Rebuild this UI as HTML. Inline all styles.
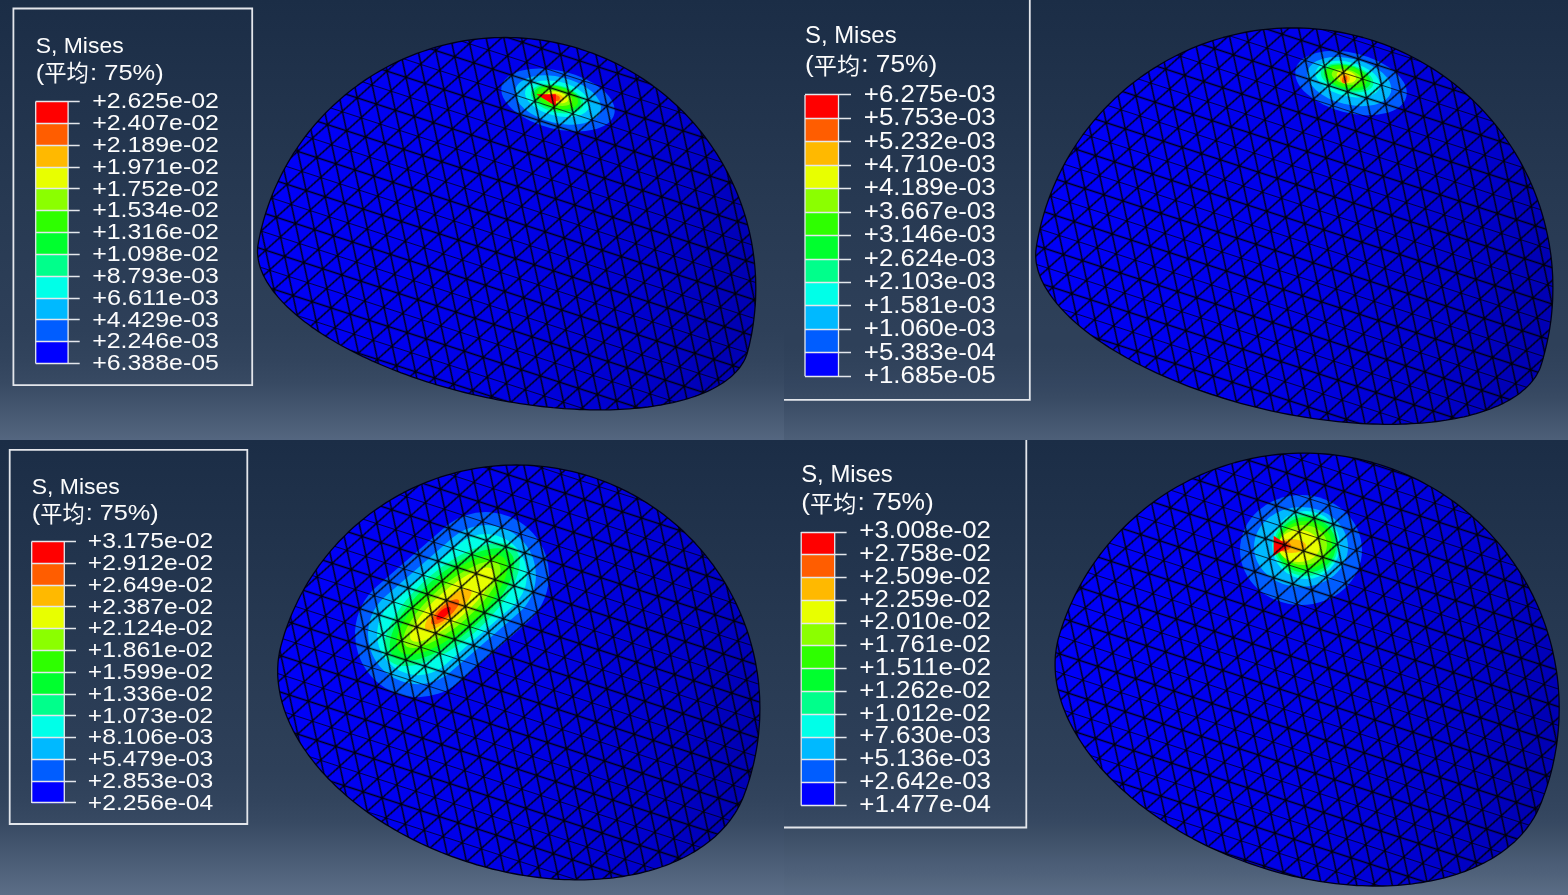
<!DOCTYPE html><html lang="en"><head><meta charset="utf-8"><title>S, Mises</title><style>html,body{margin:0;padding:0;background:#1b2a44;overflow:hidden}svg{display:block;font-family:"Liberation Sans","Noto Sans CJK SC",sans-serif}</style></head><body>
<svg width="1568" height="895" viewBox="0 0 1568 895">
<defs>
<linearGradient id="g0" x1="0" y1="0" x2="0" y2="1"><stop offset="0.0000" stop-color="#1b2d46"/><stop offset="0.2273" stop-color="#21334c"/><stop offset="0.4545" stop-color="#273952"/><stop offset="0.7500" stop-color="#2e4059"/><stop offset="0.7841" stop-color="#30425b"/><stop offset="0.8182" stop-color="#32445d"/><stop offset="0.8455" stop-color="#354760"/><stop offset="0.8727" stop-color="#384a63"/><stop offset="0.8955" stop-color="#3d4f68"/><stop offset="0.9136" stop-color="#41536c"/><stop offset="0.9318" stop-color="#455770"/><stop offset="0.9500" stop-color="#495b74"/><stop offset="0.9682" stop-color="#4d5f78"/><stop offset="0.9886" stop-color="#52647d"/><stop offset="1" stop-color="#546680"/></linearGradient>
<linearGradient id="g1" x1="0" y1="0" x2="0" y2="1"><stop offset="0.0000" stop-color="#1b2d46"/><stop offset="0.2273" stop-color="#21334c"/><stop offset="0.4545" stop-color="#273952"/><stop offset="0.7500" stop-color="#2e4059"/><stop offset="0.7841" stop-color="#2e4059"/><stop offset="0.8182" stop-color="#30425b"/><stop offset="0.8455" stop-color="#32445d"/><stop offset="0.8727" stop-color="#344660"/><stop offset="0.8955" stop-color="#374962"/><stop offset="0.9136" stop-color="#3a4c65"/><stop offset="0.9318" stop-color="#3e5069"/><stop offset="0.9500" stop-color="#42546d"/><stop offset="0.9682" stop-color="#465871"/><stop offset="0.9886" stop-color="#4b5d76"/><stop offset="1" stop-color="#4d5f78"/></linearGradient>
<linearGradient id="g2" x1="0" y1="0" x2="0" y2="1"><stop offset="0.0000" stop-color="#1b2d46"/><stop offset="0.2198" stop-color="#21334c"/><stop offset="0.4396" stop-color="#273952"/><stop offset="0.7253" stop-color="#2e4059"/><stop offset="0.7582" stop-color="#30425b"/><stop offset="0.7912" stop-color="#32445d"/><stop offset="0.8176" stop-color="#354760"/><stop offset="0.8440" stop-color="#384a63"/><stop offset="0.8659" stop-color="#3d4f68"/><stop offset="0.8835" stop-color="#41536c"/><stop offset="0.9011" stop-color="#455770"/><stop offset="0.9187" stop-color="#495b74"/><stop offset="0.9363" stop-color="#4d5f78"/><stop offset="0.9560" stop-color="#52647d"/><stop offset="0.9780" stop-color="#576982"/><stop offset="1.0000" stop-color="#5c6e87"/><stop offset="1" stop-color="#5c6e87"/></linearGradient>
<linearGradient id="g3" x1="0" y1="0" x2="0" y2="1"><stop offset="0.0000" stop-color="#1b2d46"/><stop offset="0.2198" stop-color="#21334c"/><stop offset="0.4396" stop-color="#273952"/><stop offset="0.7253" stop-color="#2e4059"/><stop offset="0.7582" stop-color="#30425b"/><stop offset="0.7912" stop-color="#32445d"/><stop offset="0.8176" stop-color="#34465f"/><stop offset="0.8440" stop-color="#374962"/><stop offset="0.8659" stop-color="#3c4e66"/><stop offset="0.8835" stop-color="#40526a"/><stop offset="0.9011" stop-color="#44566e"/><stop offset="0.9187" stop-color="#485a73"/><stop offset="0.9363" stop-color="#4c5e77"/><stop offset="0.9560" stop-color="#50627b"/><stop offset="0.9780" stop-color="#566880"/><stop offset="1.0000" stop-color="#5a6c86"/><stop offset="1" stop-color="#5a6c86"/></linearGradient>
<linearGradient id="dome" x1="0" y1="0.3" x2="1" y2="0.5"><stop offset="0" stop-color="#0000fa"/><stop offset="0.55" stop-color="#0000e8"/><stop offset="0.85" stop-color="#0000cc"/><stop offset="1" stop-color="#0000b4"/></linearGradient>
<pattern id="mesh" width="20" height="34.64" patternUnits="userSpaceOnUse" patternTransform="rotate(18)"><path d="M0 0H20M0 17.32H20M0 0L10 17.32L0 34.64M20 0L10 17.32L20 34.64" fill="none" stroke="#000" stroke-width="1.4" stroke-opacity="0.95" stroke-linecap="round"/></pattern>
<filter id="bl" x="-2%" y="-2%" width="104%" height="104%"><feGaussianBlur stdDeviation="0.5"/></filter>
<path id="o0" d="M258.6 241.3L259.7 236.2L260.8 231L262.1 225.9L263.4 220.9L264.9 215.8L266.5 210.8L268.2 205.8L269.9 200.9L271.8 196L273.8 191.1L275.9 186.3L278.1 181.5L280.4 176.8L282.7 172.1L285.2 167.5L287.8 162.9L290.5 158.4L293.2 153.9L296.1 149.5L299.1 145.2L302.1 140.9L305.2 136.7L308.4 132.5L311.8 128.4L315.1 124.4L318.6 120.5L322.2 116.6L325.8 112.8L329.5 109.1L333.3 105.5L337.2 101.9L341.1 98.4L345.1 95.1L349.2 91.7L353.4 88.5L357.6 85.4L361.9 82.4L366.2 79.4L370.6 76.5L375.1 73.8L379.6 71.1L384.2 68.5L388.8 66L393.5 63.7L398.2 61.4L403 59.2L407.8 57.1L412.7 55.1L417.6 53.2L422.5 51.5L427.5 49.8L432.5 48.2L437.6 46.7L442.6 45.4L447.7 44.1L452.9 43L458 41.9L463.2 41L468.4 40.2L473.6 39.5L478.8 38.9L484 38.4L489.3 38L494.5 37.7L499.7 37.6L505 37.5L510.3 37.6L515.5 37.7L520.7 38L526 38.4L531.2 38.9L536.4 39.5L541.6 40.2L546.8 41L552 41.9L557.1 43L562.3 44.1L567.4 45.4L572.4 46.7L577.5 48.2L582.5 49.8L587.5 51.5L592.4 53.2L597.3 55.1L602.2 57.1L607 59.2L611.8 61.4L616.5 63.7L621.2 66L625.8 68.5L630.4 71.1L634.9 73.8L639.4 76.5L643.8 79.4L648.1 82.4L652.4 85.4L656.6 88.5L660.8 91.7L664.9 95.1L668.9 98.4L672.8 101.9L676.7 105.5L680.5 109.1L684.2 112.8L687.8 116.6L691.4 120.5L694.9 124.4L698.2 128.4L701.6 132.5L704.8 136.7L707.9 140.9L710.9 145.2L713.9 149.5L716.8 153.9L719.5 158.4L722.2 162.9L724.8 167.5L727.3 172.1L729.6 176.8L731.9 181.5L734.1 186.3L736.2 191.1L738.2 196L740.1 200.9L741.8 205.8L743.5 210.8L745.1 215.8L746.6 220.9L747.9 225.9L749.2 231L750.3 236.2L751.4 241.3L752.3 246.5L753.1 251.7L753.8 256.9L754.4 262.1L754.9 267.3L755.3 272.6L755.6 277.8L755.7 283L755.8 288.3L755.7 293.6L755.6 298.8L755.3 304L754.9 309.3L754.4 314.5L753.8 319.7L753.1 324.9L752.3 330.1L751.4 335.3L750.3 340.4L749.2 345.6L747.9 350.7L747.4 352.6L746.7 354.7L745.9 356.7L745.1 358.7L744.1 360.7L743 362.7L741.7 364.7L740.4 366.6L739 368.5L737.4 370.3L735.8 372.1L734 373.9L732.1 375.7L730.1 377.4L728.1 379.1L725.9 380.8L723.6 382.4L721.1 384L718.6 385.5L716 387L713.3 388.5L710.5 389.9L707.5 391.3L704.5 392.6L701.4 393.9L698.2 395.2L694.8 396.4L691.4 397.5L687.9 398.6L684.3 399.7L680.6 400.7L676.8 401.7L672.9 402.6L668.9 403.4L664.9 404.2L660.8 405L656.5 405.7L652.2 406.4L647.9 407L643.4 407.5L638.9 408L634.3 408.4L629.6 408.8L624.9 409.1L620.1 409.4L615.2 409.6L610.3 409.8L605.3 409.8L600.3 409.9L595.2 409.9L590.1 409.8L584.9 409.7L579.7 409.5L574.4 409.2L569.1 408.9L563.8 408.6L558.4 408.1L553 407.7L547.5 407.1L542.1 406.5L536.6 405.9L531.1 405.2L525.6 404.4L520.1 403.6L514.5 402.7L509 401.8L503.4 400.8L497.9 399.8L492.3 398.7L486.8 397.6L481.3 396.4L475.7 395.2L470.2 393.9L464.7 392.5L459.3 391.1L453.8 389.7L448.4 388.2L443 386.7L437.6 385.1L432.3 383.5L427 381.8L421.8 380.1L416.6 378.4L411.4 376.6L406.3 374.7L401.2 372.9L396.2 370.9L391.3 369L386.4 367L381.6 365L376.8 362.9L372.1 360.9L367.5 358.7L362.9 356.6L358.5 354.4L354.1 352.2L349.7 350L345.5 347.7L341.3 345.5L337.3 343.2L333.3 340.8L329.4 338.5L325.6 336.1L321.8 333.8L318.2 331.4L314.7 329L311.2 326.6L307.9 324.1L304.6 321.7L301.5 319.2L298.5 316.8L295.5 314.3L292.7 311.8L290 309.3L287.4 306.9L284.8 304.4L282.4 301.9L280.1 299.4L277.9 296.9L275.9 294.4L273.9 292L272 289.5L270.3 287L268.7 284.6L267.1 282.1L265.7 279.7L264.4 277.3L263.2 274.9L262.2 272.5L261.2 270.1L260.3 267.7L259.6 265.3L259 263L258.5 260.7L258.1 258.4L257.8 256.1L257.6 253.9L257.5 251.6L257.6 249.4L257.7 247.2L258 245.1Z"/>
<path id="o1" d="M1036.7 244.5L1037.7 239.1L1038.8 233.8L1040 228.5L1041.3 223.2L1042.7 217.9L1044.2 212.7L1045.8 207.5L1047.6 202.3L1049.4 197.2L1051.4 192.1L1053.4 187.1L1055.6 182.1L1057.8 177.1L1060.2 172.2L1062.7 167.4L1065.2 162.6L1067.9 157.9L1070.7 153.2L1073.6 148.5L1076.5 144L1079.6 139.5L1082.7 135L1086 130.7L1089.3 126.4L1092.7 122.1L1096.3 118L1099.9 113.9L1103.5 109.9L1107.3 106L1111.2 102.1L1115.1 98.3L1119.1 94.7L1123.2 91.1L1127.3 87.5L1131.6 84.1L1135.9 80.8L1140.2 77.5L1144.7 74.4L1149.2 71.3L1153.7 68.4L1158.4 65.5L1163 62.7L1167.8 60L1172.6 57.5L1177.4 55L1182.3 52.6L1187.3 50.4L1192.3 48.2L1197.3 46.2L1202.4 44.2L1207.5 42.4L1212.7 40.6L1217.9 39L1223.1 37.5L1228.4 36.1L1233.7 34.8L1239 33.6L1244.3 32.5L1249.7 31.5L1255 30.7L1260.4 29.9L1265.8 29.3L1271.3 28.8L1276.7 28.4L1282.1 28.1L1287.6 28L1293 27.9L1298.4 28L1303.9 28.1L1309.3 28.4L1314.7 28.8L1320.2 29.3L1325.6 29.9L1331 30.7L1336.3 31.5L1341.7 32.5L1347 33.6L1352.3 34.8L1357.6 36.1L1362.9 37.5L1368.1 39L1373.3 40.6L1378.5 42.4L1383.6 44.2L1388.7 46.2L1393.7 48.2L1398.7 50.4L1403.7 52.6L1408.6 55L1413.4 57.5L1418.2 60L1422.9 62.7L1427.6 65.5L1432.3 68.4L1436.8 71.3L1441.3 74.4L1445.8 77.5L1450.1 80.8L1454.4 84.1L1458.7 87.5L1462.8 91.1L1466.9 94.7L1470.9 98.3L1474.8 102.1L1478.7 106L1482.5 109.9L1486.1 113.9L1489.7 118L1493.3 122.1L1496.7 126.4L1500 130.7L1503.3 135L1506.4 139.5L1509.5 144L1512.4 148.5L1515.3 153.2L1518.1 157.8L1520.8 162.6L1523.3 167.4L1525.8 172.2L1528.2 177.1L1530.4 182.1L1532.6 187.1L1534.6 192.1L1536.6 197.2L1538.4 202.3L1540.2 207.5L1541.8 212.7L1543.3 217.9L1544.7 223.2L1546 228.5L1547.2 233.8L1548.3 239.1L1549.3 244.5L1550.1 249.8L1550.9 255.2L1551.5 260.6L1552 266.1L1552.4 271.5L1552.7 276.9L1552.8 282.4L1552.9 287.8L1552.8 293.2L1552.7 298.7L1552.4 304.1L1552 309.5L1551.5 315L1550.9 320.4L1550.1 325.8L1549.3 331.1L1548.3 336.5L1547.2 341.8L1546 347.1L1544.7 352.4L1543.3 357.7L1541.8 362.9L1540.7 366.3L1539.9 368.5L1538.9 370.7L1537.8 372.8L1536.6 375L1535.3 377.1L1533.8 379.1L1532.3 381.2L1530.6 383.2L1528.8 385.1L1526.9 387.1L1524.8 389L1522.6 390.8L1520.4 392.7L1518 394.5L1515.5 396.2L1512.8 397.9L1510.1 399.6L1507.2 401.2L1504.2 402.8L1501.1 404.3L1497.9 405.8L1494.5 407.2L1491.1 408.6L1487.5 409.9L1483.9 411.2L1480.1 412.4L1476.2 413.6L1472.2 414.7L1468.1 415.8L1463.9 416.8L1459.6 417.7L1455.2 418.6L1450.6 419.4L1446 420.2L1441.3 420.9L1436.6 421.5L1431.7 422.1L1426.7 422.6L1421.7 423.1L1416.5 423.4L1411.3 423.7L1406 424L1400.7 424.2L1395.2 424.3L1389.7 424.3L1384.2 424.3L1378.5 424.2L1372.9 424L1367.1 423.8L1361.3 423.5L1355.5 423.1L1349.6 422.7L1343.7 422.2L1337.8 421.6L1331.8 420.9L1325.8 420.2L1319.7 419.4L1313.7 418.6L1307.6 417.7L1301.5 416.7L1295.4 415.6L1289.3 414.5L1283.2 413.3L1277.1 412.1L1271 410.8L1264.9 409.4L1258.8 407.9L1252.8 406.4L1246.7 404.9L1240.7 403.3L1234.7 401.6L1228.8 399.9L1222.9 398.1L1217 396.2L1211.2 394.3L1205.4 392.4L1199.7 390.4L1194 388.4L1188.4 386.3L1182.9 384.1L1177.4 381.9L1172 379.7L1166.7 377.4L1161.4 375.1L1156.3 372.8L1151.2 370.4L1146.2 368L1141.2 365.5L1136.4 363.1L1131.7 360.5L1127 358L1122.5 355.4L1118 352.8L1113.7 350.2L1109.4 347.6L1105.3 344.9L1101.3 342.3L1097.4 339.6L1093.6 336.9L1089.9 334.2L1086.3 331.4L1082.8 328.7L1079.5 325.9L1076.3 323.2L1073.2 320.4L1070.2 317.7L1067.3 314.9L1064.6 312.1L1062 309.4L1059.5 306.6L1057.1 303.9L1054.9 301.1L1052.8 298.4L1050.8 295.7L1048.9 292.9L1047.2 290.2L1045.5 287.5L1044 284.9L1042.7 282.2L1041.4 279.6L1040.3 276.9L1039.3 274.3L1038.4 271.7L1037.7 269.2L1037.1 266.6L1036.5 264.1L1036.1 261.6L1035.9 259.2L1035.7 256.7L1035.7 254.3L1035.8 251.9L1036 249.6Z"/>
<path id="o2" d="M281.7 643.1L283.1 638.2L284.6 633.3L286.2 628.5L288 623.7L289.8 618.9L291.7 614.2L293.8 609.5L295.9 604.9L298.1 600.3L300.4 595.7L302.8 591.2L305.3 586.8L307.9 582.4L310.6 578.1L313.4 573.8L316.3 569.6L319.2 565.4L322.3 561.3L325.4 557.3L328.6 553.3L331.9 549.4L335.3 545.6L338.7 541.8L342.3 538.2L345.9 534.6L349.5 531L353.3 527.6L357.1 524.2L361 520.9L365 517.7L369 514.6L373.1 511.5L377.3 508.6L381.5 505.7L385.8 502.9L390.1 500.2L394.5 497.6L398.9 495.1L403.4 492.7L408 490.4L412.6 488.2L417.2 486.1L421.9 484L426.6 482.1L431.4 480.3L436.2 478.5L441 476.9L445.9 475.4L450.8 474L455.7 472.7L460.7 471.4L465.7 470.3L470.7 469.3L475.7 468.4L480.7 467.6L485.8 466.9L490.8 466.3L495.9 465.9L501 465.5L506.1 465.2L511.2 465.1L516.3 465L521.4 465.1L526.5 465.2L531.6 465.5L536.7 465.9L541.8 466.3L546.8 466.9L551.9 467.6L556.9 468.4L561.9 469.3L566.9 470.3L571.9 471.4L576.9 472.7L581.8 474L586.7 475.4L591.6 476.9L596.4 478.5L601.2 480.3L606 482.1L610.7 484L615.4 486.1L620 488.2L624.6 490.4L629.2 492.7L633.7 495.1L638.1 497.6L642.5 500.2L646.8 502.9L651.1 505.7L655.3 508.6L659.5 511.5L663.6 514.6L667.6 517.7L671.6 520.9L675.5 524.2L679.3 527.6L683.1 531L686.7 534.6L690.3 538.2L693.9 541.8L697.3 545.6L700.7 549.4L704 553.3L707.2 557.3L710.3 561.3L713.4 565.4L716.3 569.6L719.2 573.8L722 578.1L724.7 582.4L727.3 586.8L729.8 591.2L732.2 595.7L734.5 600.3L736.7 604.9L738.8 609.5L740.9 614.2L742.8 618.9L744.6 623.7L746.4 628.5L748 633.3L749.5 638.2L750.9 643.1L752.2 648L753.5 653L754.6 658L755.6 663L756.5 668L757.3 673L758 678.1L758.6 683.1L759 688.2L759.4 693.3L759.7 698.4L759.8 703.5L759.9 708.6L759.8 713.7L759.7 718.8L759.4 723.9L759 729L758.6 734.1L758 739.1L757.3 744.2L756.5 749.2L755.6 754.2L754.6 759.2L753.5 764.2L752.2 769.2L750.9 774.1L749.5 779L748 783.9L746.4 788.7L744.6 793.5L743.7 796L742.5 799L741.1 801.9L739.7 804.9L738.2 807.8L736.6 810.6L734.9 813.4L733 816.2L731.1 818.9L729.1 821.6L727 824.2L724.7 826.8L722.4 829.3L720 831.8L717.5 834.3L714.9 836.7L712.2 839L709.4 841.3L706.5 843.5L703.5 845.7L700.5 847.8L697.3 849.9L694.1 851.9L690.8 853.8L687.3 855.7L683.9 857.5L680.3 859.2L676.6 860.9L672.9 862.5L669.1 864.1L665.2 865.6L661.2 867L657.2 868.3L653.1 869.6L648.9 870.8L644.7 871.9L640.4 873L636 874L631.6 874.9L627.1 875.7L622.6 876.5L618 877.1L613.3 877.8L608.6 878.3L603.9 878.7L599.1 879.1L594.3 879.4L589.4 879.6L584.5 879.8L579.5 879.8L574.5 879.8L569.5 879.7L564.5 879.6L559.4 879.3L554.3 879L549.2 878.6L544.1 878.1L538.9 877.5L533.8 876.9L528.6 876.2L523.4 875.4L518.2 874.5L513 873.5L507.8 872.5L502.6 871.4L497.5 870.2L492.3 869L487.1 867.6L482 866.2L476.8 864.8L471.7 863.2L466.6 861.6L461.5 859.9L456.5 858.1L451.4 856.3L446.4 854.4L441.5 852.5L436.5 850.4L431.7 848.3L426.8 846.2L422 844L417.2 841.7L412.5 839.3L407.9 836.9L403.3 834.5L398.7 832L394.2 829.4L389.8 826.8L385.4 824.1L381.1 821.4L376.8 818.6L372.6 815.8L368.5 812.9L364.5 810L360.5 807L356.6 804L352.8 801L349.1 797.9L345.4 794.8L341.9 791.6L338.4 788.4L335 785.2L331.7 781.9L328.4 778.7L325.3 775.3L322.2 772L319.3 768.6L316.4 765.3L313.7 761.9L311 758.4L308.4 755L306 751.5L303.6 748.1L301.3 744.6L299.1 741.1L297.1 737.6L295.1 734.1L293.2 730.6L291.5 727L289.8 723.5L288.3 720L286.8 716.5L285.5 713L284.2 709.5L283.1 705.9L282.1 702.5L281.2 699L280.4 695.5L279.7 692L279.1 688.6L278.6 685.1L278.2 681.7L277.9 678.3L277.7 674.9L277.7 671.6L277.7 668.2L277.9 664.9L278.1 661.6L278.5 658.4L279 655.2L279.5 652L280.2 648.8L281 645.7Z"/>
<path id="o3" d="M1059.5 634.6L1061.1 629.5L1062.8 624.4L1064.6 619.4L1066.5 614.4L1068.5 609.5L1070.7 604.6L1072.9 599.7L1075.2 594.9L1077.7 590.1L1080.2 585.4L1082.8 580.8L1085.5 576.1L1088.3 571.6L1091.3 567.1L1094.3 562.7L1097.4 558.3L1100.5 554L1103.8 549.8L1107.2 545.7L1110.6 541.6L1114.2 537.6L1117.8 533.6L1121.5 529.8L1125.3 526L1129.1 522.3L1133.1 518.7L1137.1 515.1L1141.2 511.7L1145.3 508.3L1149.5 505L1153.8 501.9L1158.2 498.8L1162.6 495.8L1167.1 492.8L1171.6 490L1176.2 487.3L1180.9 484.7L1185.6 482.2L1190.4 479.7L1195.2 477.4L1200.1 475.2L1205 473L1209.9 471L1214.9 469.1L1219.9 467.3L1225 465.6L1230.1 464L1235.2 462.5L1240.4 461.1L1245.6 459.8L1250.8 458.7L1256.1 457.6L1261.3 456.7L1266.6 455.8L1271.9 455.1L1277.2 454.5L1282.5 454L1287.9 453.6L1293.2 453.3L1298.6 453.2L1303.9 453.1L1309.2 453.2L1314.6 453.3L1319.9 453.6L1325.3 454L1330.6 454.5L1335.9 455.1L1341.2 455.8L1346.5 456.7L1351.7 457.6L1357 458.7L1362.2 459.8L1367.4 461.1L1372.6 462.5L1377.7 464L1382.8 465.6L1387.9 467.3L1392.9 469.1L1397.9 471L1402.8 473L1407.7 475.2L1412.6 477.4L1417.4 479.7L1422.2 482.2L1426.9 484.7L1431.5 487.3L1436.2 490L1440.7 492.8L1445.2 495.8L1449.6 498.8L1454 501.9L1458.3 505L1462.5 508.3L1466.6 511.7L1470.7 515.1L1474.7 518.7L1478.7 522.3L1482.5 526L1486.3 529.8L1490 533.6L1493.6 537.6L1497.2 541.6L1500.6 545.7L1504 549.8L1507.3 554L1510.4 558.3L1513.5 562.7L1516.5 567.1L1519.5 571.6L1522.3 576.1L1525 580.7L1527.6 585.4L1530.1 590.1L1532.6 594.9L1534.9 599.7L1537.1 604.6L1539.3 609.5L1541.3 614.4L1543.2 619.4L1545 624.4L1546.7 629.5L1548.3 634.6L1549.8 639.7L1551.2 644.9L1552.5 650.1L1553.6 655.3L1554.7 660.6L1555.6 665.8L1556.5 671.1L1557.2 676.4L1557.8 681.7L1558.3 687L1558.7 692.4L1559 697.7L1559.1 703.1L1559.2 708.4L1559.1 713.7L1559 719.1L1558.7 724.4L1558.3 729.8L1557.8 735.1L1557.2 740.4L1556.5 745.7L1555.6 751L1554.7 756.2L1553.6 761.5L1552.5 766.7L1551.2 771.9L1549.8 777.1L1548.3 782.2L1546.7 787.3L1545 792.4L1543.2 797.4L1541.3 802.4L1540 805.4L1538.7 808.5L1537.3 811.4L1535.8 814.4L1534.2 817.3L1532.4 820.2L1530.6 823L1528.7 825.7L1526.6 828.5L1524.5 831.1L1522.2 833.8L1519.9 836.4L1517.4 838.9L1514.9 841.4L1512.2 843.8L1509.4 846.1L1506.6 848.4L1503.6 850.7L1500.6 852.9L1497.5 855L1494.2 857.1L1490.9 859.1L1487.5 861L1484 862.9L1480.4 864.7L1476.7 866.4L1473 868.1L1469.1 869.7L1465.2 871.3L1461.2 872.7L1457.1 874.1L1452.9 875.4L1448.7 876.7L1444.4 877.8L1440 878.9L1435.6 879.9L1431.1 880.9L1426.5 881.7L1421.8 882.5L1417.1 883.2L1412.4 883.9L1407.6 884.4L1402.7 884.9L1397.8 885.3L1392.8 885.6L1387.8 885.8L1382.7 886L1377.6 886L1372.5 886L1367.3 885.9L1362.1 885.7L1356.8 885.5L1351.5 885.1L1346.2 884.7L1340.9 884.2L1335.6 883.6L1330.2 882.9L1324.8 882.2L1319.4 881.3L1314 880.4L1308.6 879.4L1303.2 878.4L1297.8 877.2L1292.3 876L1286.9 874.7L1281.5 873.3L1276.1 871.8L1270.7 870.3L1265.3 868.7L1260 867L1254.6 865.2L1249.3 863.4L1244 861.5L1238.8 859.5L1233.5 857.5L1228.3 855.4L1223.2 853.2L1218 850.9L1212.9 848.6L1207.9 846.3L1202.9 843.8L1198 841.3L1193.1 838.8L1188.2 836.1L1183.4 833.5L1178.7 830.7L1174.1 827.9L1169.5 825.1L1164.9 822.2L1160.4 819.3L1156 816.3L1151.7 813.2L1147.5 810.2L1143.3 807L1139.2 803.9L1135.2 800.6L1131.2 797.4L1127.4 794.1L1123.6 790.8L1119.9 787.4L1116.3 784L1112.8 780.6L1109.4 777.2L1106.1 773.7L1102.9 770.2L1099.7 766.7L1096.7 763.1L1093.8 759.6L1091 756L1088.2 752.4L1085.6 748.8L1083.1 745.2L1080.7 741.5L1078.4 737.9L1076.2 734.2L1074.1 730.6L1072.1 726.9L1070.2 723.3L1068.4 719.6L1066.7 716L1065.2 712.3L1063.7 708.6L1062.4 705L1061.2 701.4L1060.1 697.7L1059.1 694.1L1058.2 690.5L1057.4 686.9L1056.7 683.4L1056.2 679.8L1055.7 676.3L1055.4 672.8L1055.2 669.3L1055.1 665.9L1055.1 662.4L1055.2 659L1055.4 655.6L1055.8 652.3L1056.2 649L1056.8 645.7L1057.4 642.5L1058.2 639.2L1059.1 636.1Z"/>
</defs>
<rect x="0" y="0" width="784" height="440" fill="url(#g0)"/>
<rect x="784" y="0" width="784" height="440" fill="url(#g1)"/>
<rect x="0" y="440" width="784" height="455" fill="url(#g2)"/>
<rect x="784" y="440" width="784" height="455" fill="url(#g3)"/>
<clipPath id="c0"><use href="#o0"/></clipPath>
<use href="#o0" fill="url(#dome)" stroke="#00001a" stroke-width="1.3" stroke-linejoin="round"/>
<g clip-path="url(#c0)">
<g transform="translate(558 100) rotate(14)">
<ellipse cx="0" cy="0" rx="58" ry="29" fill="#005DFF"/>
<ellipse cx="0" cy="0" rx="44" ry="23" fill="#00B9FF"/>
<ellipse cx="-1" cy="-1" rx="33" ry="17" fill="#00FFE8"/>
<ellipse cx="-1" cy="-1" rx="27" ry="13.5" fill="#00FF8B"/>
<ellipse cx="-1" cy="-1.5" rx="24" ry="12" fill="#00FF2E"/>
<ellipse cx="-1" cy="-2" rx="21" ry="10.5" fill="#2EFF00"/>
<ellipse cx="-1" cy="-2" rx="15" ry="7.5" fill="#8BFF00"/>
<ellipse cx="-1" cy="-2.5" rx="11" ry="5.5" fill="#E8FF00"/>
<ellipse cx="-2" cy="-2" rx="7" ry="4" fill="#FFB900"/>
<ellipse cx="-3" cy="-1.5" rx="4.5" ry="3" fill="#FF5D00"/>
</g>
<path d="M536.3 94.2L555.9 94.2L555.9 106.3Z" fill="#f00"/>
<rect x="250" y="30" width="515" height="390" fill="url(#mesh)" filter="url(#bl)"/>
</g>
<clipPath id="c1"><use href="#o1"/></clipPath>
<use href="#o1" fill="url(#dome)" stroke="#00001a" stroke-width="1.3" stroke-linejoin="round"/>
<g clip-path="url(#c1)">
<g transform="translate(1351 83) rotate(14)">
<ellipse cx="0" cy="0" rx="57" ry="30" fill="#005DFF"/>
<ellipse cx="-2" cy="-1" rx="43" ry="23" fill="#00B9FF"/>
<ellipse cx="-4" cy="-3" rx="33" ry="17" fill="#00FFE8"/>
<ellipse cx="-5" cy="-4" rx="27" ry="13.5" fill="#00FF8B"/>
<ellipse cx="-5" cy="-4.5" rx="24" ry="12" fill="#00FF2E"/>
<ellipse cx="-6" cy="-5" rx="21" ry="10.5" fill="#2EFF00"/>
<ellipse cx="-6" cy="-5" rx="15" ry="7.5" fill="#8BFF00"/>
<ellipse cx="-6" cy="-5" rx="10" ry="6" fill="#E8FF00"/>
<ellipse cx="-7" cy="-3" rx="5" ry="5" fill="#FFB900"/>
<ellipse cx="-7" cy="-2" rx="2.5" ry="4" fill="#FF5D00"/>
</g>
<rect x="1028" y="20" width="535" height="412" fill="url(#mesh)" filter="url(#bl)"/>
</g>
<clipPath id="c2"><use href="#o2"/></clipPath>
<use href="#o2" fill="url(#dome)" stroke="#00001a" stroke-width="1.3" stroke-linejoin="round"/>
<g clip-path="url(#c2)">
<g transform="translate(452 604.6) rotate(-41)">
<rect x="-108" y="-63" width="216" height="126" rx="63" fill="#005DFF"/>
<rect x="-95" y="-50" width="190" height="100" rx="50" fill="#00B9FF"/>
<rect x="-86" y="-41" width="172" height="82" rx="41" fill="#00FFE8"/>
<ellipse cx="0" cy="0" rx="84" ry="36" fill="#00FF8B"/>
<ellipse cx="0" cy="0" rx="78" ry="31" fill="#00FF2E"/>
<ellipse cx="0" cy="0" rx="70" ry="26" fill="#2EFF00"/>
<ellipse cx="0" cy="0" rx="62" ry="20" fill="#8BFF00"/>
<ellipse cx="0" cy="0" rx="54" ry="15" fill="#E8FF00"/>
<ellipse cx="-6" cy="1" rx="30" ry="9" fill="#FFB900"/>
<ellipse cx="-10" cy="1" rx="18" ry="6" fill="#FF5D00"/>
<ellipse cx="-12" cy="1" rx="9" ry="3.5" fill="#FF0000"/>
</g>
<rect x="270" y="458" width="498" height="430" fill="url(#mesh)" filter="url(#bl)"/>
</g>
<clipPath id="c3"><use href="#o3"/></clipPath>
<use href="#o3" fill="url(#dome)" stroke="#00001a" stroke-width="1.3" stroke-linejoin="round"/>
<g clip-path="url(#c3)">
<g transform="translate(1301 550) rotate(0)">
<ellipse cx="0" cy="0" rx="61" ry="55" fill="#005DFF"/>
<ellipse cx="0" cy="-3" rx="47" ry="40" fill="#00B9FF"/>
<ellipse cx="5" cy="-5" rx="34" ry="34" fill="#00FFE8"/>
<ellipse cx="5" cy="-5" rx="32" ry="31" fill="#00FF8B"/>
<ellipse cx="5" cy="-5" rx="30" ry="28" fill="#00FF2E"/>
<ellipse cx="4" cy="-5" rx="27" ry="24" fill="#2EFF00"/>
<ellipse cx="2" cy="-5" rx="24" ry="20" fill="#8BFF00"/>
<ellipse cx="-2" cy="-4" rx="21" ry="16" fill="#E8FF00"/>
<ellipse cx="-10" cy="-4" rx="15" ry="7" fill="#FFB900"/>
<ellipse cx="-18" cy="-4" rx="8" ry="5" fill="#FF5D00"/>
</g>
<path d="M1273.6 535.8L1273.6 556.1L1288.9 546Z" fill="#f00"/>
<rect x="1048" y="446" width="518" height="446" fill="url(#mesh)" filter="url(#bl)"/>
</g>
<g fill="#fff" font-size="22.4" opacity="0.99">
<text x="35.7" y="53.2" textLength="88" lengthAdjust="spacingAndGlyphs">S, Mises</text>
<text x="35.7" y="79.7" textLength="8.5" lengthAdjust="spacingAndGlyphs">(</text>
<text x="44.2" y="81.4" font-size="22.35" font-family="'Liberation Sans','Noto Sans CJK SC',sans-serif" textLength="44.7" lengthAdjust="spacingAndGlyphs">平均</text>
<text x="90.1" y="79.7" textLength="73.7" lengthAdjust="spacingAndGlyphs">: 75%)</text>
<text x="92.2" y="108.3" textLength="126.7" lengthAdjust="spacingAndGlyphs">+2.625e-02</text>
<text x="92.2" y="130.1" textLength="126.7" lengthAdjust="spacingAndGlyphs">+2.407e-02</text>
<text x="92.2" y="152" textLength="126.7" lengthAdjust="spacingAndGlyphs">+2.189e-02</text>
<text x="92.2" y="173.8" textLength="126.7" lengthAdjust="spacingAndGlyphs">+1.971e-02</text>
<text x="92.2" y="195.6" textLength="126.7" lengthAdjust="spacingAndGlyphs">+1.752e-02</text>
<text x="92.2" y="217.4" textLength="126.7" lengthAdjust="spacingAndGlyphs">+1.534e-02</text>
<text x="92.2" y="239.3" textLength="126.7" lengthAdjust="spacingAndGlyphs">+1.316e-02</text>
<text x="92.2" y="261.1" textLength="126.7" lengthAdjust="spacingAndGlyphs">+1.098e-02</text>
<text x="92.2" y="282.9" textLength="126.7" lengthAdjust="spacingAndGlyphs">+8.793e-03</text>
<text x="92.2" y="304.8" textLength="126.7" lengthAdjust="spacingAndGlyphs">+6.611e-03</text>
<text x="92.2" y="326.6" textLength="126.7" lengthAdjust="spacingAndGlyphs">+4.429e-03</text>
<text x="92.2" y="348.4" textLength="126.7" lengthAdjust="spacingAndGlyphs">+2.246e-03</text>
<text x="92.2" y="370.3" textLength="126.7" lengthAdjust="spacingAndGlyphs">+6.388e-05</text>
</g>
<rect x="35.7" y="101.6" width="32.4" height="22.1" fill="#FF0000"/>
<rect x="35.7" y="123.4" width="32.4" height="22.1" fill="#FF5D00"/>
<rect x="35.7" y="145.3" width="32.4" height="22.1" fill="#FFB900"/>
<rect x="35.7" y="167.1" width="32.4" height="22.1" fill="#E8FF00"/>
<rect x="35.7" y="188.9" width="32.4" height="22.1" fill="#8BFF00"/>
<rect x="35.7" y="210.8" width="32.4" height="22.1" fill="#2EFF00"/>
<rect x="35.7" y="232.6" width="32.4" height="22.1" fill="#00FF2E"/>
<rect x="35.7" y="254.4" width="32.4" height="22.1" fill="#00FF8B"/>
<rect x="35.7" y="276.2" width="32.4" height="22.1" fill="#00FFE8"/>
<rect x="35.7" y="298.1" width="32.4" height="22.1" fill="#00B9FF"/>
<rect x="35.7" y="319.9" width="32.4" height="22.1" fill="#005DFF"/>
<rect x="35.7" y="341.7" width="32.4" height="22.1" fill="#0000FF"/>
<path d="M35.7 101.5H79.7M35.7 123.5H79.7M35.7 145.5H79.7M35.7 167.5H79.7M35.7 188.5H79.7M35.7 210.5H79.7M35.7 232.5H79.7M35.7 254.5H79.7M35.7 276.5H79.7M35.7 298.5H79.7M35.7 319.5H79.7M35.7 341.5H79.7M35.7 363.5H79.7M35.7 101.6V363.6M68.1 101.6V363.6" stroke="#e4e7ec" stroke-width="1.3" fill="none"/>
<path d="M13.4 8.5H252.2V385.2H13.4Z" stroke="#e3e6eb" stroke-width="1.8" fill="none"/>
<g fill="#fff" font-size="23.4" opacity="0.99">
<text x="805" y="43.1" textLength="91.6" lengthAdjust="spacingAndGlyphs">S, Mises</text>
<text x="805" y="71.9" textLength="8.8" lengthAdjust="spacingAndGlyphs">(</text>
<text x="813.8" y="73.6" font-size="23.08" font-family="'Liberation Sans','Noto Sans CJK SC',sans-serif" textLength="46.2" lengthAdjust="spacingAndGlyphs">平均</text>
<text x="861.2" y="71.9" textLength="76.1" lengthAdjust="spacingAndGlyphs">: 75%)</text>
<text x="863.8" y="101.6" textLength="131.8" lengthAdjust="spacingAndGlyphs">+6.275e-03</text>
<text x="863.8" y="125" textLength="131.8" lengthAdjust="spacingAndGlyphs">+5.753e-03</text>
<text x="863.8" y="148.5" textLength="131.8" lengthAdjust="spacingAndGlyphs">+5.232e-03</text>
<text x="863.8" y="171.9" textLength="131.8" lengthAdjust="spacingAndGlyphs">+4.710e-03</text>
<text x="863.8" y="195.4" textLength="131.8" lengthAdjust="spacingAndGlyphs">+4.189e-03</text>
<text x="863.8" y="218.8" textLength="131.8" lengthAdjust="spacingAndGlyphs">+3.667e-03</text>
<text x="863.8" y="242.3" textLength="131.8" lengthAdjust="spacingAndGlyphs">+3.146e-03</text>
<text x="863.8" y="265.8" textLength="131.8" lengthAdjust="spacingAndGlyphs">+2.624e-03</text>
<text x="863.8" y="289.2" textLength="131.8" lengthAdjust="spacingAndGlyphs">+2.103e-03</text>
<text x="863.8" y="312.6" textLength="131.8" lengthAdjust="spacingAndGlyphs">+1.581e-03</text>
<text x="863.8" y="336.1" textLength="131.8" lengthAdjust="spacingAndGlyphs">+1.060e-03</text>
<text x="863.8" y="359.5" textLength="131.8" lengthAdjust="spacingAndGlyphs">+5.383e-04</text>
<text x="863.8" y="383" textLength="131.8" lengthAdjust="spacingAndGlyphs">+1.685e-05</text>
</g>
<rect x="805" y="94.9" width="33.5" height="23.8" fill="#FF0000"/>
<rect x="805" y="118.4" width="33.5" height="23.8" fill="#FF5D00"/>
<rect x="805" y="141.8" width="33.5" height="23.8" fill="#FFB900"/>
<rect x="805" y="165.2" width="33.5" height="23.8" fill="#E8FF00"/>
<rect x="805" y="188.7" width="33.5" height="23.8" fill="#8BFF00"/>
<rect x="805" y="212.2" width="33.5" height="23.8" fill="#2EFF00"/>
<rect x="805" y="235.6" width="33.5" height="23.8" fill="#00FF2E"/>
<rect x="805" y="259.1" width="33.5" height="23.8" fill="#00FF8B"/>
<rect x="805" y="282.5" width="33.5" height="23.8" fill="#00FFE8"/>
<rect x="805" y="305.9" width="33.5" height="23.8" fill="#00B9FF"/>
<rect x="805" y="329.4" width="33.5" height="23.8" fill="#005DFF"/>
<rect x="805" y="352.9" width="33.5" height="23.8" fill="#0000FF"/>
<path d="M805 94.5H851M805 118.5H851M805 141.5H851M805 165.5H851M805 188.5H851M805 212.5H851M805 235.5H851M805 259.5H851M805 282.5H851M805 305.5H851M805 329.5H851M805 352.5H851M805 376.5H851M805 94.9V376.3M838.5 94.9V376.3" stroke="#e4e7ec" stroke-width="1.3" fill="none"/>
<path d="M1029.8 0V399.9H784" stroke="#e3e6eb" stroke-width="1.8" fill="none"/>
<g fill="#fff" font-size="22.4" opacity="0.99">
<text x="31.7" y="493.6" textLength="88.2" lengthAdjust="spacingAndGlyphs">S, Mises</text>
<text x="31.7" y="520.4" textLength="8.5" lengthAdjust="spacingAndGlyphs">(</text>
<text x="40.2" y="522.1" font-size="22.18" font-family="'Liberation Sans','Noto Sans CJK SC',sans-serif" textLength="44.4" lengthAdjust="spacingAndGlyphs">平均</text>
<text x="85.7" y="520.4" textLength="73.1" lengthAdjust="spacingAndGlyphs">: 75%)</text>
<text x="87.8" y="548.3" textLength="125.5" lengthAdjust="spacingAndGlyphs">+3.175e-02</text>
<text x="87.8" y="570.1" textLength="125.5" lengthAdjust="spacingAndGlyphs">+2.912e-02</text>
<text x="87.8" y="591.9" textLength="125.5" lengthAdjust="spacingAndGlyphs">+2.649e-02</text>
<text x="87.8" y="613.6" textLength="125.5" lengthAdjust="spacingAndGlyphs">+2.387e-02</text>
<text x="87.8" y="635.4" textLength="125.5" lengthAdjust="spacingAndGlyphs">+2.124e-02</text>
<text x="87.8" y="657.2" textLength="125.5" lengthAdjust="spacingAndGlyphs">+1.861e-02</text>
<text x="87.8" y="679" textLength="125.5" lengthAdjust="spacingAndGlyphs">+1.599e-02</text>
<text x="87.8" y="700.8" textLength="125.5" lengthAdjust="spacingAndGlyphs">+1.336e-02</text>
<text x="87.8" y="722.5" textLength="125.5" lengthAdjust="spacingAndGlyphs">+1.073e-02</text>
<text x="87.8" y="744.3" textLength="125.5" lengthAdjust="spacingAndGlyphs">+8.106e-03</text>
<text x="87.8" y="766.1" textLength="125.5" lengthAdjust="spacingAndGlyphs">+5.479e-03</text>
<text x="87.8" y="787.9" textLength="125.5" lengthAdjust="spacingAndGlyphs">+2.853e-03</text>
<text x="87.8" y="809.7" textLength="125.5" lengthAdjust="spacingAndGlyphs">+2.256e-04</text>
</g>
<rect x="31.7" y="541.6" width="32.6" height="22.1" fill="#FF0000"/>
<rect x="31.7" y="563.4" width="32.6" height="22.1" fill="#FF5D00"/>
<rect x="31.7" y="585.2" width="32.6" height="22.1" fill="#FFB900"/>
<rect x="31.7" y="606.9" width="32.6" height="22.1" fill="#E8FF00"/>
<rect x="31.7" y="628.7" width="32.6" height="22.1" fill="#8BFF00"/>
<rect x="31.7" y="650.5" width="32.6" height="22.1" fill="#2EFF00"/>
<rect x="31.7" y="672.3" width="32.6" height="22.1" fill="#00FF2E"/>
<rect x="31.7" y="694.1" width="32.6" height="22.1" fill="#00FF8B"/>
<rect x="31.7" y="715.8" width="32.6" height="22.1" fill="#00FFE8"/>
<rect x="31.7" y="737.6" width="32.6" height="22.1" fill="#00B9FF"/>
<rect x="31.7" y="759.4" width="32.6" height="22.1" fill="#005DFF"/>
<rect x="31.7" y="781.2" width="32.6" height="22.1" fill="#0000FF"/>
<path d="M31.7 541.5H76M31.7 563.5H76M31.7 585.5H76M31.7 606.5H76M31.7 628.5H76M31.7 650.5H76M31.7 672.5H76M31.7 694.5H76M31.7 715.5H76M31.7 737.5H76M31.7 759.5H76M31.7 781.5H76M31.7 802.5H76M31.7 541.6V803M64.3 541.6V803" stroke="#e4e7ec" stroke-width="1.3" fill="none"/>
<path d="M9.7 449.8H247.3V824H9.7Z" stroke="#e3e6eb" stroke-width="1.8" fill="none"/>
<g fill="#fff" font-size="23.4" opacity="0.99">
<text x="801.2" y="482" textLength="91.6" lengthAdjust="spacingAndGlyphs">S, Mises</text>
<text x="801.2" y="510.4" textLength="8.8" lengthAdjust="spacingAndGlyphs">(</text>
<text x="810" y="512.1" font-size="23.15" font-family="'Liberation Sans','Noto Sans CJK SC',sans-serif" textLength="46.3" lengthAdjust="spacingAndGlyphs">平均</text>
<text x="857.6" y="510.4" textLength="76.3" lengthAdjust="spacingAndGlyphs">: 75%)</text>
<text x="859.3" y="538.3" textLength="131.7" lengthAdjust="spacingAndGlyphs">+3.008e-02</text>
<text x="859.3" y="561.1" textLength="131.7" lengthAdjust="spacingAndGlyphs">+2.758e-02</text>
<text x="859.3" y="583.9" textLength="131.7" lengthAdjust="spacingAndGlyphs">+2.509e-02</text>
<text x="859.3" y="606.6" textLength="131.7" lengthAdjust="spacingAndGlyphs">+2.259e-02</text>
<text x="859.3" y="629.4" textLength="131.7" lengthAdjust="spacingAndGlyphs">+2.010e-02</text>
<text x="859.3" y="652.2" textLength="131.7" lengthAdjust="spacingAndGlyphs">+1.761e-02</text>
<text x="859.3" y="675" textLength="131.7" lengthAdjust="spacingAndGlyphs">+1.511e-02</text>
<text x="859.3" y="697.8" textLength="131.7" lengthAdjust="spacingAndGlyphs">+1.262e-02</text>
<text x="859.3" y="720.5" textLength="131.7" lengthAdjust="spacingAndGlyphs">+1.012e-02</text>
<text x="859.3" y="743.3" textLength="131.7" lengthAdjust="spacingAndGlyphs">+7.630e-03</text>
<text x="859.3" y="766.1" textLength="131.7" lengthAdjust="spacingAndGlyphs">+5.136e-03</text>
<text x="859.3" y="788.9" textLength="131.7" lengthAdjust="spacingAndGlyphs">+2.642e-03</text>
<text x="859.3" y="811.7" textLength="131.7" lengthAdjust="spacingAndGlyphs">+1.477e-04</text>
</g>
<rect x="801.2" y="532" width="33.5" height="23.1" fill="#FF0000"/>
<rect x="801.2" y="554.8" width="33.5" height="23.1" fill="#FF5D00"/>
<rect x="801.2" y="577.6" width="33.5" height="23.1" fill="#FFB900"/>
<rect x="801.2" y="600.3" width="33.5" height="23.1" fill="#E8FF00"/>
<rect x="801.2" y="623.1" width="33.5" height="23.1" fill="#8BFF00"/>
<rect x="801.2" y="645.9" width="33.5" height="23.1" fill="#2EFF00"/>
<rect x="801.2" y="668.7" width="33.5" height="23.1" fill="#00FF2E"/>
<rect x="801.2" y="691.5" width="33.5" height="23.1" fill="#00FF8B"/>
<rect x="801.2" y="714.2" width="33.5" height="23.1" fill="#00FFE8"/>
<rect x="801.2" y="737" width="33.5" height="23.1" fill="#00B9FF"/>
<rect x="801.2" y="759.8" width="33.5" height="23.1" fill="#005DFF"/>
<rect x="801.2" y="782.6" width="33.5" height="23.1" fill="#0000FF"/>
<path d="M801.2 532.5H846.6M801.2 554.5H846.6M801.2 577.5H846.6M801.2 600.5H846.6M801.2 623.5H846.6M801.2 645.5H846.6M801.2 668.5H846.6M801.2 691.5H846.6M801.2 714.5H846.6M801.2 737.5H846.6M801.2 759.5H846.6M801.2 782.5H846.6M801.2 805.5H846.6M801.2 532V805.4M834.7 532V805.4" stroke="#e4e7ec" stroke-width="1.3" fill="none"/>
<path d="M1026.3 440V827.5H784" stroke="#e3e6eb" stroke-width="1.8" fill="none"/>
</svg></body></html>
